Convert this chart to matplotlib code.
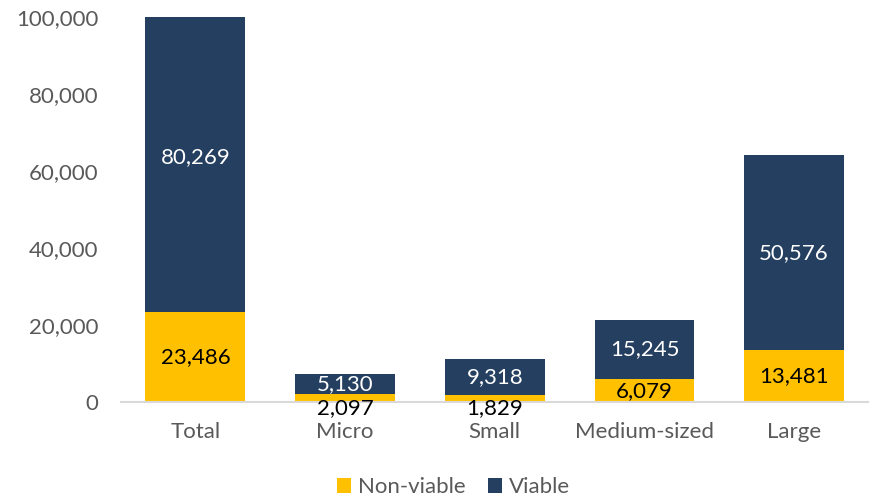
import matplotlib
matplotlib.use("Agg")
import matplotlib.pyplot as plt
from matplotlib.ticker import FuncFormatter

# Firm counts by size class
categories = ["Total", "Micro", "Small", "Medium-sized", "Large"]
non_viable = [23486, 2097, 1829, 6079, 13481]
viable = [80269, 5130, 9318, 15245, 50576]
y_ticks = [0, 20000, 40000, 60000, 80000, 100000]

GOLD = "#FFC000"
NAVY = "#243F60"
GREY = "#595959"
FONT = "Lato"
FS = 16

plt.rcParams["font.family"] = [FONT, "DejaVu Sans"]

fig = plt.figure(figsize=(8.69, 4.97), dpi=100)
ax = fig.add_axes([0.1387, 0.1905, 0.8613, 0.7753])

x = list(range(len(categories)))
width = 0.667
b1 = ax.bar(x, non_viable, width, color=GOLD, label="Non-viable", zorder=2)
b2 = ax.bar(x, viable, width, bottom=non_viable, color=NAVY, label="Viable", zorder=2)

ax.set_xlim(-0.5, len(categories) - 0.5)
ax.set_ylim(0, 100000)
ax.set_yticks(y_ticks)
ax.yaxis.set_major_formatter(FuncFormatter(lambda v, p: f"{int(v):,}"))
ax.set_xticks(x)
ax.set_xticklabels(categories)
ax.tick_params(axis="y", length=0, pad=16, labelsize=FS, labelcolor=GREY)
ax.tick_params(axis="x", length=0, pad=14, labelsize=FS, labelcolor=GREY)

for side in ("top", "right", "left"):
    ax.spines[side].set_visible(False)
ax.spines["bottom"].set_color("#D9D9D9")
ax.spines["bottom"].set_linewidth(1.5)
ax.spines["bottom"].set_zorder(3)

# Value labels centred in each segment; very thin segments get nudged down
for i in x:
    nv, v = non_viable[i], viable[i]
    dy = -7 if nv < 3000 else 0
    ax.annotate(f"{nv:,}", (i, nv / 2), xytext=(0, dy), textcoords="offset points",
                ha="center", va="center", fontsize=FS, color="black", zorder=4)
    ax.annotate(f"{v:,}", (i, nv + v / 2), ha="center", va="center",
                fontsize=FS, color="white", zorder=4, annotation_clip=False)

leg = fig.legend(handles=[b1, b2], labels=["Non-viable", "Viable"],
                 loc="center", bbox_to_anchor=(0.522, 0.02), ncol=2, frameon=False,
                 fontsize=FS, handlelength=0.63, handleheight=0.63,
                 handletextpad=0.3, columnspacing=1.0, borderpad=0)
for t in leg.get_texts():
    t.set_color(GREY)

fig.savefig("out.png", dpi=100)
